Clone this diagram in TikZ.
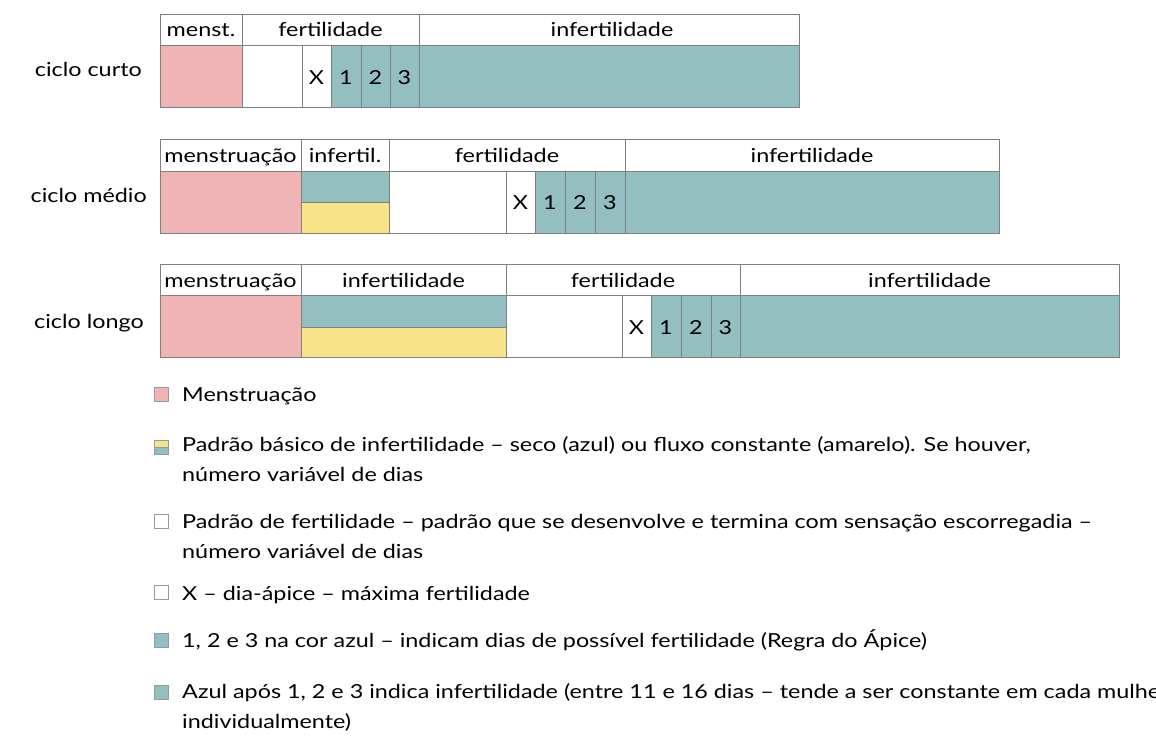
\documentclass[tikz,border=0pt]{standalone}
\usepackage{fontspec}
\setmainfont{Lato}[FakeStretch=1.21]
\definecolor{menscol}{HTML}{EFB4B3}
\definecolor{tealcol}{HTML}{93BFC0}
\definecolor{yelcol}{HTML}{F7E488}
\definecolor{linecol}{HTML}{7F7F7F}
\begin{document}
\begin{tikzpicture}[x=1pt,y=-1pt,
  cell/.style={draw=linecol,line width=0.8pt},
  txt/.style={font=\fontsize{19.3}{23}\selectfont,inner sep=0pt,anchor=base},
  rowlab/.style={txt,anchor=base east},
  legtxt/.style={font=\fontsize{19.3}{30}\selectfont,inner sep=0pt,anchor=base west},
  swatch/.style={draw=linecol!80,line width=0.6pt}]
\useasboundingbox (0,0) rectangle (1156,736);
% ---------- ciclo curto ----------
\path[cell] (160,14) rectangle (242,45);
\path[cell] (242,14) rectangle (419,45);
\path[cell] (419,14) rectangle (799,45);
\path[cell,fill=menscol] (160,45) rectangle (242,107);
\path[cell,fill=white] (242,45) rectangle (302,107);
\path[cell,fill=white] (302,45) rectangle (331,107);
\path[cell,fill=tealcol] (331,45) rectangle (361,107);
\path[cell,fill=tealcol] (361,45) rectangle (390,107);
\path[cell,fill=tealcol] (390,45) rectangle (419,107);
\path[cell,fill=tealcol] (419,45) rectangle (799,107);
\node[txt] (h11) at (201,36) {menst.};
\node[txt] (h12) at (330.5,36) {fertilidade};
\node[txt] (h13) at (612,36) {infertilidade};
\node[txt] (x1) at (316.5,84) {X};
\node[txt] (a1) at (346,84) {1};
\node[txt] (b1) at (375.5,84) {2};
\node[txt] (c1) at (404.5,84) {3};
\node[rowlab] (r1) at (142,76) {ciclo curto};
% ---------- ciclo medio ----------
\path[cell] (160,139) rectangle (301,171);
\path[cell] (301,139) rectangle (389,171);
\path[cell] (389,139) rectangle (625,171);
\path[cell] (625,139) rectangle (999,171);
\path[cell,fill=menscol] (160,171) rectangle (301,233);
\path[cell,fill=tealcol] (301,171) rectangle (389,202);
\path[cell,fill=yelcol] (301,202) rectangle (389,233);
\path[cell,fill=white] (389,171) rectangle (506,233);
\path[cell,fill=white] (506,171) rectangle (535,233);
\path[cell,fill=tealcol] (535,171) rectangle (565,233);
\path[cell,fill=tealcol] (565,171) rectangle (595,233);
\path[cell,fill=tealcol] (595,171) rectangle (625,233);
\path[cell,fill=tealcol] (625,171) rectangle (999,233);
\node[txt] (h21) at (230.5,162) {menstruação};
\node[txt] (h22) at (345,162) {infertil.};
\node[txt] (h23) at (507,162) {fertilidade};
\node[txt] (h24) at (812,162) {infertilidade};
\node[txt] (x2) at (520.5,209) {X};
\node[txt] (a2) at (550,209) {1};
\node[txt] (b2) at (580,209) {2};
\node[txt] (c2) at (610,209) {3};
\node[rowlab] (r2) at (147,202) {ciclo médio};
% ---------- ciclo longo ----------
\path[cell] (160,264) rectangle (301,295);
\path[cell] (301,264) rectangle (506,295);
\path[cell] (506,264) rectangle (740,295);
\path[cell] (740,264) rectangle (1119,295);
\path[cell,fill=menscol] (160,295) rectangle (301,357);
\path[cell,fill=tealcol] (301,295) rectangle (506,327);
\path[cell,fill=yelcol] (301,327) rectangle (506,357);
\path[cell,fill=white] (506,295) rectangle (622,357);
\path[cell,fill=white] (622,295) rectangle (651,357);
\path[cell,fill=tealcol] (651,295) rectangle (681,357);
\path[cell,fill=tealcol] (681,295) rectangle (711,357);
\path[cell,fill=tealcol] (711,295) rectangle (740,357);
\path[cell,fill=tealcol] (740,295) rectangle (1119,357);
\node[txt] (h31) at (230.5,287) {menstruação};
\node[txt] (h32) at (403.5,287) {infertilidade};
\node[txt] (h33) at (623,287) {fertilidade};
\node[txt] (h34) at (929.5,287) {infertilidade};
\node[txt] (x3) at (636.5,334) {X};
\node[txt] (a3) at (666,334) {1};
\node[txt] (b3) at (696,334) {2};
\node[txt] (c3) at (725.5,334) {3};
\node[rowlab] (r3) at (144,328) {ciclo longo};
% ---------- legenda ----------
\path[swatch,fill=menscol] (154,387) rectangle (168,401);
\node[legtxt] (l1) at (182,401) {Menstruação};
\path[swatch,fill=yelcol] (154,440) rectangle (168,447);
\path[swatch,fill=tealcol] (154,447) rectangle (168,454);
\node[legtxt] (l2) at (182,451) {Padrão básico de infertilidade – seco (azul) ou fluxo constante (amarelo). Se houver,};
\node[legtxt] (l2b) at (182,481) {número variável de dias};
\path[swatch,fill=white] (154,514) rectangle (168,528);
\node[legtxt] (l3) at (182,528) {Padrão de fertilidade – padrão que se desenvolve e termina com sensação escorregadia –};
\node[legtxt] (l3b) at (182,558) {número variável de dias};
\path[swatch,fill=white] (154,585) rectangle (168,599);
\node[legtxt] (l4) at (182,600) {X – dia-ápice – máxima fertilidade};
\path[swatch,fill=tealcol] (154,633) rectangle (168,647);
\node[legtxt] (l5) at (182,647) {1, 2 e 3 na cor azul – indicam dias de possível fertilidade (Regra do Ápice)};
\path[swatch,fill=tealcol] (154,685) rectangle (168,699);
\node[legtxt] (l6) at (182,698) {Azul após 1, 2 e 3 indica infertilidade (entre 11 e 16 dias – tende a ser constante em cada mulher};
\node[legtxt] (l6b) at (182,728) {individualmente)};
\end{tikzpicture}
\end{document}
